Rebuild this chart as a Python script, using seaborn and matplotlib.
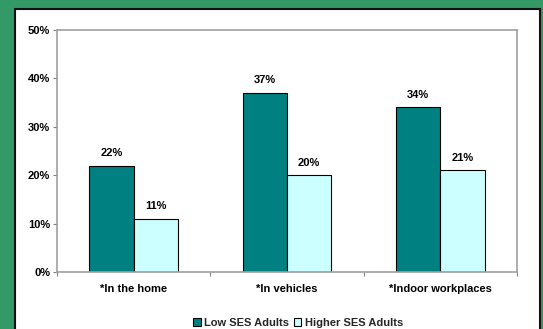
import matplotlib
matplotlib.use("Agg")
import matplotlib.pyplot as plt
import seaborn as sns
import pandas as pd
from matplotlib.patches import Rectangle, Patch

categories = ["*In the home", "*In vehicles", "*Indoor workplaces"]
low_ses = [22, 37, 34]
higher_ses = [11, 20, 21]
series_names = ["Low SES Adults", "Higher SES Adults"]
y_ticks = [0, 10, 20, 30, 40, 50]

df = pd.DataFrame({
    "category": categories * 2,
    "value": low_ses + higher_ses,
    "group": [series_names[0]] * 3 + [series_names[1]] * 3,
})

sns.set_theme(style="white")
plt.rcParams["font.family"] = ["Liberation Sans", "DejaVu Sans"]
plt.rcParams["font.weight"] = "bold"

FS = 8
W, H = 543, 329
fig = plt.figure(figsize=(W / 100, H / 100), dpi=100)
fig.patch.set_facecolor("#339966")

# white panel
fig.patches.append(Rectangle((15 / W, -0.01), (540 - 15) / W, 1 - 9 / H + 0.01,
                             transform=fig.transFigure, facecolor="white",
                             edgecolor="#111111", linewidth=1.5, zorder=-5))

ax = fig.add_axes([57 / W, 1 - 272 / H, (517 - 57) / W, (272 - 30) / H])
ax.set_facecolor("white")

palette = {series_names[0]: "#008080", series_names[1]: "#CCFFFF"}
sns.barplot(data=df, x="category", y="value", hue="group", order=categories,
            hue_order=series_names, palette=palette, width=0.58, gap=0,
            edgecolor="black", linewidth=0.8, saturation=1, ax=ax, legend=False)

for cont in ax.containers:
    for bar in cont:
        h = bar.get_height()
        ax.annotate(f"{h:.0f}%", (bar.get_x() + bar.get_width() / 2, h),
                    xytext=(0, 5.5), textcoords="offset points", ha="center",
                    va="bottom", fontsize=FS, fontweight="bold", color="black")

ax.set_ylim(0, 50)
ax.set_xlim(-0.5, 2.5)
ax.set_yticks(y_ticks)
ax.set_yticklabels([f"{t}%" for t in y_ticks])
ax.set_xlabel("")
ax.set_ylabel("")
ax.set_xticks([0, 1, 2])
ax.set_xticklabels(categories)
ax.set_xticks([-0.5, 0.5, 1.5, 2.5], minor=True)
ax.tick_params(axis="x", which="major", length=0, pad=9, labelsize=FS, colors="black")
ax.tick_params(axis="x", which="minor", length=3, width=0.8, color="#808080", bottom=True)
ax.tick_params(axis="y", which="major", length=3, width=0.8, color="#808080",
               pad=2, labelsize=FS, left=True, labelcolor="black")
for lab in ax.get_xticklabels() + ax.get_yticklabels():
    lab.set_fontweight("bold")
for s in ax.spines.values():
    s.set_visible(True)
    s.set_color("#a0a0a0")
    s.set_linewidth(1.2)

handles = [Patch(facecolor=palette[n], edgecolor="black", linewidth=0.8) for n in series_names]
leg = fig.legend(handles, series_names, loc="center", bbox_to_anchor=(298 / W, 1 - 323 / H),
                 ncol=2, frameon=False, handlelength=0.7, handleheight=0.7,
                 handletextpad=0.3, columnspacing=0.4, prop={"size": FS, "weight": "bold"})

fig.savefig("out.png", dpi=100, facecolor=fig.get_facecolor())
